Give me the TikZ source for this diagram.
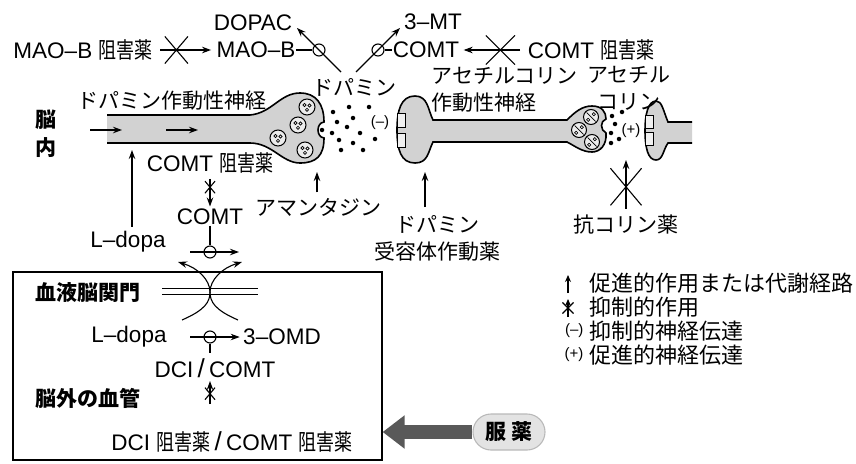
\documentclass[tikz,border=0pt]{standalone}
\usepackage{fontspec}
\setmainfont{Liberation Sans}
\newfontfamily\jp{Noto Sans CJK JP}
\newfontfamily\jpn{Noto Sans CJK JP}[FakeStretch=0.8]
\newcommand{\sogai}{{\jpn 阻害薬}}
\usetikzlibrary{arrows.meta,shapes.misc}

\begin{document}
\begin{tikzpicture}[x=1pt,y=-1pt,line width=1.1pt,
                    >={Stealth[length=9pt,width=6.5pt]}]
  \tikzstyle{every node}=[inner sep=0pt]
  \tikzstyle{lat}=[font=\fontsize{22.5}{26}\selectfont]
  \tikzstyle{jap}=[font=\jp\fontsize{21}{27}\selectfont]
  \tikzstyle{legend}=[font=\jp\fontsize{22}{27}\selectfont, anchor=west]
  \tikzstyle{heavy}=[font=\jp\bfseries\fontsize{21}{28}\selectfont]
  \tikzstyle{tiny}=[font=\fontsize{15}{17}\selectfont]
  \tikzstyle{nerve}=[draw=black, line width=1.6pt, fill=gray!35]
  \tikzstyle{recep}=[draw=black, line width=0.9pt, fill=gray!12]
  \tikzstyle{ves}=[circle, draw, line width=1pt, fill=gray!15, minimum size=16pt]
  \tikzstyle{tx}=[circle, fill=black, minimum size=4.5pt]
  \tikzstyle{enz}=[circle, draw, line width=1.1pt, minimum size=12pt]
  \tikzstyle{block}=[cross out, draw, line width=1.1pt]

  \useasboundingbox (0,0) rectangle (856,463);

  % dopamine neuron with its terminal
  \draw[nerve] (107,115) -- (250,115) .. controls (272,113) and (280,93) .. (300,93)
    .. controls (316,93) and (324,104) .. (324,122) .. controls (316,123) and (316,137) .. (324,138)
    .. controls (324,156) and (316,163) .. (300,163) .. controls (282,163) and (272,143) .. (250,143)
    -- (107,143);
  \foreach \x/\y [count=\i] in {307/107, 298/125, 278/138, 305/150} {
    \node[ves] (dv\i) at (\x,\y) {};
    \foreach \u/\v in {-2.5/-2, 2.5/-1.5, 0/2.8}
      \draw[line width=0.6pt] (\x+\u,\y+\v) circle (1.6pt);
  }
  \foreach \x/\y [count=\i] in {333/112, 349/107, 369/107, 337/122, 347/127, 353/118, 322/130,
                               332/133, 339/140, 360/133, 375/139, 353/143, 341/150, 363/150}
    \node[tx] (dt\i) at (\x,\y) {};
  \node[tiny] (minus) at (380,123) {(–)};

  % cholinergic neuron
  \draw[nerve] (433,120) -- (567,120) .. controls (575,112) and (582,106) .. (592,106)
    .. controls (602,106) and (606,112) .. (606,119) .. controls (600,121) and (600,130) .. (606,133)
    .. controls (607,145) and (600,152) .. (592,152) .. controls (582,152) and (575,146) .. (567,142)
    -- (433,142) .. controls (428,152) and (428,163) .. (415,163) .. controls (401,163) and (397,150) .. (397,130)
    .. controls (397,110) and (401,96) .. (415,96) .. controls (428,96) and (428,110) .. (433,120) -- cycle;
  \draw[recep] (397,113) rectangle (405,127);
  \draw[recep] (397,133) rectangle (405,147);
  \foreach \x/\y [count=\i] in {591/117, 579/130, 592/142} {
    \node[ves, minimum size=15pt] (av\i) at (\x,\y) {};
    \draw[line width=0.7pt] (\x-4.5,\y-4.5) -- (\x+4.5,\y+4.5);
    \draw[line width=0.6pt] (\x+2.8,\y-2.8) circle (1.6pt) (\x-2.8,\y+2.8) circle (1.6pt);
  }
  \foreach \x/\y [count=\i] in {612/116, 622/112, 615/124, 611/133, 619/139, 611/143}
    \node[tx] (at\i) at (\x,\y) {};
  \node[tiny] (plus) at (631,131) {(+)};

  % postsynaptic cell
  \draw[nerve] (692,122) -- (668,122) .. controls (663,110) and (662,101) .. (656,101)
    .. controls (648,101) and (645,115) .. (645,130) .. controls (645,148) and (648,160) .. (656,160)
    .. controls (663,160) and (663,150) .. (668,143) -- (692,143);
  \draw[recep] (645,115) rectangle (653,128);
  \draw[recep] (645,132) rectangle (653,145);

  % labels in the brain
  \node[heavy, align=center] (brain) at (46,134) {脳\\内};
  \node[jap] (danerve) at (172,101) {ドパミン作動性神経};
  \node[jap] (da) at (354,87) {ドパミン};
  \node[jap, align=left, anchor=west] (achnerve) at (431,90) {アセチルコリン\\作動性神経};
  \node[jap, align=center] (ach) at (629,88) {アセチル\\コリン};
  \node[lat] (dopac) at (253,23) {DOPAC};
  \node[lat] (mt) at (433,22) {3–MT};
  \node[lat] (maobinh) at (83,50) {MAO–B \sogai};
  \node[lat] (maob) at (256,50) {MAO–B};
  \node[lat] (comt) at (426,50) {COMT};
  \node[lat] (comtinh) at (591,50) {COMT \sogai};

  % metabolism of dopamine
  \coordinate (dafoot1) at (341,72);
  \coordinate (dopachead) at (297,28);
  \coordinate (dafoot2) at (356,72);
  \coordinate (mthead) at (400,28);
  \draw[->] (dafoot1) -- (dopachead);
  \draw[->] (dafoot2) -- (mthead);
  \node[enz] (maobsite) at (319,50) {};
  \node[enz] (comtsite) at (378,50) {};
  \draw (maob.east) -- (maobsite);
  \draw (comtsite) -- (comt.west);
  \draw[->] ([xshift=7pt]maobinh.east) -- node[block, pos=.32, minimum width=22pt, minimum height=26pt] (maobx) {} ([xshift=-5pt]maob.west);
  \draw[->] ([xshift=-7pt]comtinh.west) -- node[block, pos=.35, minimum width=28pt, minimum height=28pt] (comtx) {} ([xshift=4pt]comt.east);

  % axon flow
  \coordinate (f1) at (90,130);
  \coordinate (f2) at (122,130);
  \coordinate (f3) at (166,130);
  \coordinate (f4) at (198,130);
  \draw[->] (f1) -- (f2);
  \draw[->] (f3) -- (f4);

  % drugs acting in the brain
  \node[lat] (comtinh2) at (210,163) {COMT \sogai};
  \node[lat] (comt2) at (210,217) {COMT};
  \node[lat] (ldopa) at (128,242) {L–dopa};
  \coordinate (axonfoot) at (132,150);
  \draw[->] ([xshift=4pt,yshift=4pt]ldopa.north) -- (axonfoot);
  \draw[->] ([yshift=-5pt]comtinh2.south) -- node[block, pos=.3, minimum width=9pt, minimum height=11pt] (comtx2) {} ([yshift=2pt]comt2.north);
  \coordinate (bl) at (190,252);
  \coordinate (br) at (239,252);
  \draw[->] (bl) -- (br);
  \node[enz] (brainsite) at (210,252) {};
  \draw (comt2.south) -- (brainsite);

  \node[jap] (amant) at (318,207) {アマンタジン};
  \coordinate (cleftfoot) at (317,172);
  \draw[->] ([xshift=-1pt,yshift=5pt]amant.north) -- (cleftfoot);
  \node[jap, align=center] (agon) at (437,238) {ドパミン\\受容体作動薬};
  \coordinate (agonstart) at (425,207);
  \coordinate (recfoot) at (425,172);
  \draw[->] (agonstart) -- (recfoot);
  \node[jap] (antich) at (626,225) {抗コリン薬};
  \coordinate (achfoot) at (626,160);
  \draw[->] ([yshift=6pt]antich.north) -- node[block, pos=.45, minimum width=30pt, minimum height=36pt] (achx) {} (achfoot);

  % outside the brain
  \node[draw, line width=1.3pt, minimum width=369pt, minimum height=188pt] (outside) at (197.5,366) {};
  \node[heavy] (bbb) at (88,293) {血液脳関門};
  \draw[line width=1pt] (162,288) -- (258,288) (162,294) -- (258,294);
  \draw[->] (182,320) .. controls (205,310) and (210,302) .. (210,292) .. controls (210,280) and (198,268) .. (178,262);
  \draw[->] (238,320) .. controls (215,310) and (210,302) .. (210,292) .. controls (210,280) and (222,268) .. (242,262);

  \node[lat] (ldopa2) at (129,337) {L–dopa};
  \node[lat] (omd) at (282,337) {3–OMD};
  \coordinate (pl) at (190,337);
  \draw[->, shorten >=3pt] (pl) -- (omd.west);
  \node[enz] (periphsite) at (210,337) {};
  \draw (periphsite.south) -- ++(0,9);
  \node[lat] (dcicomt) at (215,368) {DCI{\fontsize{26}{26}\selectfont\,/\,}COMT};
  \node[heavy] (periph) at (88,398) {脳外の血管};
  \coordinate (dcifoot) at (210,404);
  \coordinate (dcitip) at (210,381);
  \draw[->] (dcifoot) -- node[block, pos=.45, minimum width=9pt, minimum height=11pt] (dcix) {} (dcitip);
  \node[lat] (dciinh) at (232,442) {DCI \sogai{\fontsize{26}{26}\selectfont\,/\,}COMT \sogai};

  % oral dosing
  \node[rounded rectangle, draw=gray!55, fill=gray!22, minimum width=72pt, minimum height=36pt, heavy] (dose) at (509,432) {服\hspace{5pt}薬};
  \draw[line width=14pt, gray!70!black, -{Triangle[length=22pt,width=32pt]}] (dose.west) -- (dose.west -| outside.east);

  % legend
  \node[legend] (lg1) at (589,283) {促進的作用または代謝経路};
  \node[legend] (lg2) at (589,307) {抑制的作用};
  \node[legend] (lg3) at (589,331) {抑制的神経伝達};
  \node[legend] (lg4) at (589,355) {促進的神経伝達};
  \coordinate (s1a) at (568,293);
  \coordinate (s1b) at (568,275);
  \coordinate (s2a) at (568,317);
  \coordinate (s2b) at (568,299);
  \draw[->, >={Stealth[length=7pt,width=6pt]}] (s1a) -- (s1b);
  \draw[->, >={Stealth[length=7pt,width=6pt]}] (s2a) -- node[block, minimum width=10pt, minimum height=10pt] (lgx) {} (s2b);
  \node[tiny, anchor=east] (lgm) at (584,331) {(–)};
  \node[tiny, anchor=east] (lgp) at (584,355) {(+)};
\end{tikzpicture}
\end{document}
